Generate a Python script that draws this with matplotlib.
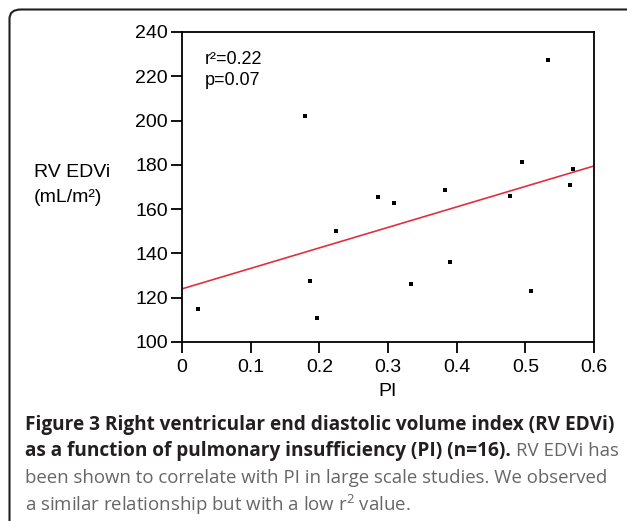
import numpy as np
import matplotlib
matplotlib.use("Agg")
import matplotlib.pyplot as plt
from matplotlib.patches import FancyBboxPatch

# values (PI vs RV EDVi, n=16)
pi = [0.024, 0.179, 0.186, 0.196, 0.224, 0.286, 0.309, 0.333,
      0.383, 0.391, 0.478, 0.495, 0.508, 0.533, 0.565, 0.570]
rv_edvi = [115, 202, 127.5, 111, 150, 165.5, 163, 126,
           168.5, 136, 166, 181.5, 123, 227.5, 171, 178]

# regression line end points
fit_x = [0.0, 0.6]
fit_y = [124, 179.5]

x_ticks = [0, 0.1, 0.2, 0.3, 0.4, 0.5, 0.6]
x_labels = ["0", "0.1", "0.2", "0.3", "0.4", "0.5", "0.6"]
y_ticks = [100, 120, 140, 160, 180, 200, 220, 240]

plt.rcParams['font.family'] = ['Liberation Sans', 'DejaVu Sans']
plt.rcParams['mathtext.fontset'] = 'custom'
plt.rcParams['mathtext.rm'] = 'Open Sans'
plt.rcParams['mathtext.it'] = 'Open Sans'

W, H = 627, 521
fig = plt.figure(figsize=(W / 100, H / 100), dpi=100)

def fx(px):
    return px / W

def fy(py):
    return 1 - py / H

# rounded frame, only the top-left corner is visible
frame = FancyBboxPatch((fx(9.5), fy(560)), fx(700), fy(9.5) - fy(560),
                       boxstyle="round,pad=0,rounding_size=0.018",
                       transform=fig.transFigure, facecolor='none',
                       edgecolor='#231f20', linewidth=1.5, clip_on=False)
fig.add_artist(frame)

ax = fig.add_axes([fx(182), fy(342), fx(594) - fx(182), fy(32) - fy(342)])
ax.scatter(pi, rv_edvi, marker='s', s=6.5, color='black', linewidths=0, zorder=3)
ax.plot(fit_x, fit_y, color='#e0303f', linewidth=1.2, zorder=2)

ax.set_xlim(0, 0.6)
ax.set_ylim(100, 240)
ax.set_xticks(x_ticks)
ax.set_xticklabels(x_labels)
ax.set_yticks(y_ticks)
for s in ax.spines.values():
    s.set_linewidth(1.3)
ax.tick_params(direction='out', length=8, width=1.3, labelsize=14)
ax.tick_params(axis='y', pad=2)
ax.tick_params(axis='x', pad=4)

ax.text(0.055, 0.91, "r²=0.22", transform=ax.transAxes, fontsize=13, va='center')
ax.text(0.055, 0.845, "p=0.07", transform=ax.transAxes, fontsize=13, va='center')

fig.text(fx(34), fy(172), "RV EDVi", fontsize=14, va='center')
fig.text(fx(34), fy(198), "(mL/m²)", fontsize=14, va='center')
fig.text(fx(388), fy(392), "PI", fontsize=14, ha='center', va='center')

# caption
dark = '#231f20'
grey = '#666666'
fig.canvas.draw()
r = fig.canvas.get_renderer()

def cap(px, py, s, bold):
    t = fig.text(fx(px), fy(py), s, fontsize=13.7 if bold else 13.4,
                 family='Open Sans',
                 fontweight='bold' if bold else 'normal',
                 color=dark if bold else grey, va='center')
    return t

cap(25, 425, "Figure 3 Right ventricular end diastolic volume index (RV EDVi)", True)
t = cap(25, 451, "as a function of pulmonary insufficiency (PI) (n=16).", True)
bb = t.get_window_extent(r)
cap(bb.x1 + 5, 451, "RV EDVi has", False)
cap(25, 478, "been shown to correlate with PI in large scale studies. We observed", False)
cap(25, 505, "a similar relationship but with a low r$^{2}$ value.", False)

fig.savefig("out.png", dpi=100)
